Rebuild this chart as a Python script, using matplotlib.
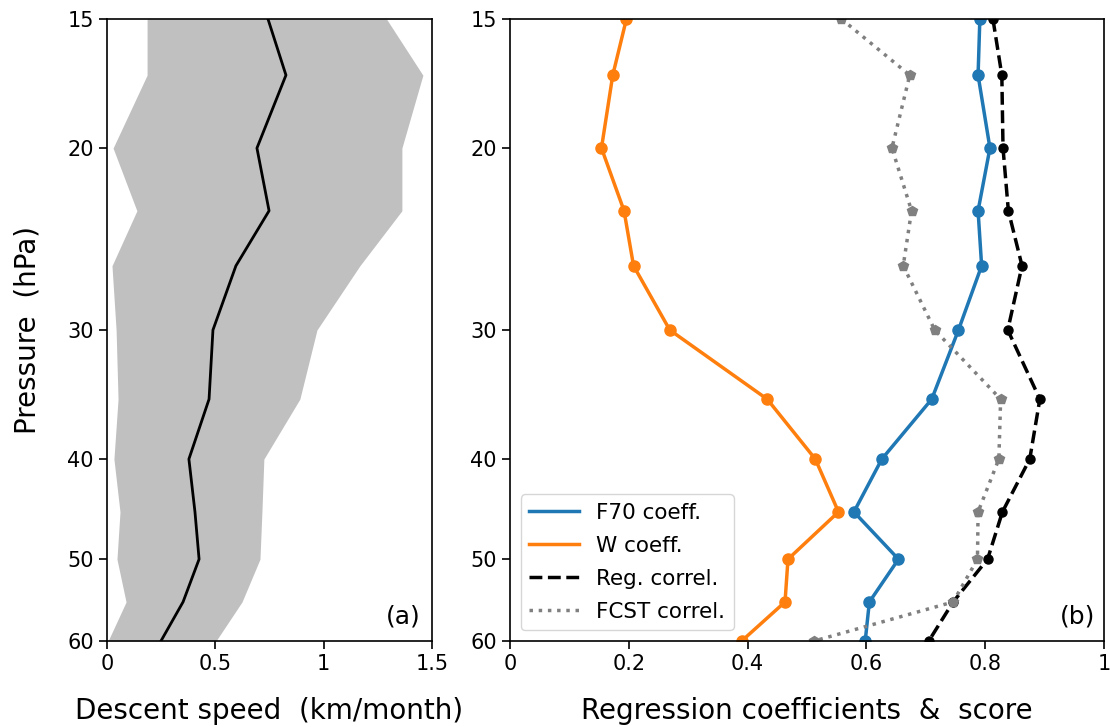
import numpy as np
import matplotlib
matplotlib.use("Agg")
import matplotlib.pyplot as plt
from matplotlib.ticker import FixedLocator, NullLocator, FixedFormatter

# pressure levels (hPa)
pres = [15, 17, 20, 23, 26, 30, 35, 40, 45, 50, 55, 60]

# (a) descent speed, mean and spread (km/month)
speed_mean = [0.743, 0.826, 0.692, 0.748, 0.595, 0.489, 0.471, 0.378, 0.406, 0.425, 0.351, 0.249]
speed_lo = [0.185, 0.185, 0.028, 0.138, 0.023, 0.042, 0.051, 0.032, 0.060, 0.046, 0.088, 0.005]
speed_hi = [1.290, 1.458, 1.361, 1.361, 1.167, 0.969, 0.890, 0.724, 0.715, 0.706, 0.623, 0.503]

# (b) regression coefficients and correlation scores
f70_coef = [0.791, 0.788, 0.808, 0.788, 0.794, 0.755, 0.710, 0.626, 0.579, 0.654, 0.605, 0.598]
w_coef = [0.196, 0.173, 0.154, 0.192, 0.208, 0.269, 0.433, 0.514, 0.553, 0.468, 0.463, 0.390]
reg_corr = [0.813, 0.828, 0.830, 0.839, 0.862, 0.838, 0.892, 0.875, 0.829, 0.804, 0.746, 0.705]
fcst_corr = [0.558, 0.673, 0.643, 0.676, 0.662, 0.715, 0.826, 0.823, 0.788, 0.787, 0.746, 0.512]

yticks = [15, 20, 30, 40, 50, 60]

fig = plt.figure(figsize=(11.1, 7.27), dpi=100)
ax1 = fig.add_axes([107/1110, 1 - 641/727, 325/1110, 622/727])
ax2 = fig.add_axes([510/1110, 1 - 641/727, 594/1110, 622/727])

for ax in (ax1, ax2):
    ax.set_yscale("log")
    ax.set_ylim(60, 15)
    ax.yaxis.set_major_locator(FixedLocator(yticks))
    ax.yaxis.set_major_formatter(FixedFormatter([str(t) for t in yticks]))
    ax.yaxis.set_minor_locator(NullLocator())
    ax.tick_params(labelsize=15, length=6, width=1.2)
    for s in ax.spines.values():
        s.set_linewidth(1.2)

# panel (a)
ax1.fill_betweenx(pres, speed_lo, speed_hi, color="silver", lw=0)
ax1.plot(speed_mean, pres, color="k", lw=2)
ax1.set_xlim(0, 1.5)
ax1.set_xticks([0, 0.5, 1, 1.5])
ax1.set_xticklabels(["0", "0.5", "1", "1.5"])
ax1.set_xlabel("Descent speed  (km/month)", fontsize=20)
ax1.xaxis.set_label_coords(0.5, -0.09)
ax1.set_ylabel("Pressure  (hPa)", fontsize=20)
ax1.yaxis.set_label_coords(-0.2, 0.5)
ax1.text(0.965, 0.02, "(a)", transform=ax1.transAxes, ha="right", va="bottom", fontsize=18)

# panel (b)
ax2.plot(f70_coef, pres, color="tab:blue", lw=2.5, label="F70 coeff.")
ax2.plot(w_coef, pres, color="tab:orange", lw=2.5, label="W coeff.")
ax2.plot(reg_corr, pres, color="k", lw=2.5, ls="--", label="Reg. correl.")
ax2.plot(fcst_corr, pres, color="gray", lw=2.5, ls=":", label="FCST correl.")
ax2.plot(f70_coef, pres, "o", color="tab:blue", ms=8)
ax2.plot(w_coef, pres, "o", color="tab:orange", ms=8)
ax2.plot(reg_corr, pres, "o", color="k", ms=6.5)
ax2.plot(fcst_corr, pres, "p", color="gray", ms=7.5)
ax2.set_xlim(0, 1)
ax2.set_xticks([0, 0.2, 0.4, 0.6, 0.8, 1])
ax2.set_xticklabels(["0", "0.2", "0.4", "0.6", "0.8", "1"])
ax2.set_xlabel("Regression coefficients  &  score", fontsize=20)
ax2.xaxis.set_label_coords(0.5, -0.09)
ax2.text(0.985, 0.02, "(b)", transform=ax2.transAxes, ha="right", va="bottom", fontsize=18)
ax2.legend(loc="lower left", fontsize=15.5, borderaxespad=0.5, handlelength=2.3,
           labelspacing=0.6)

fig.savefig("out.png", dpi=100)
